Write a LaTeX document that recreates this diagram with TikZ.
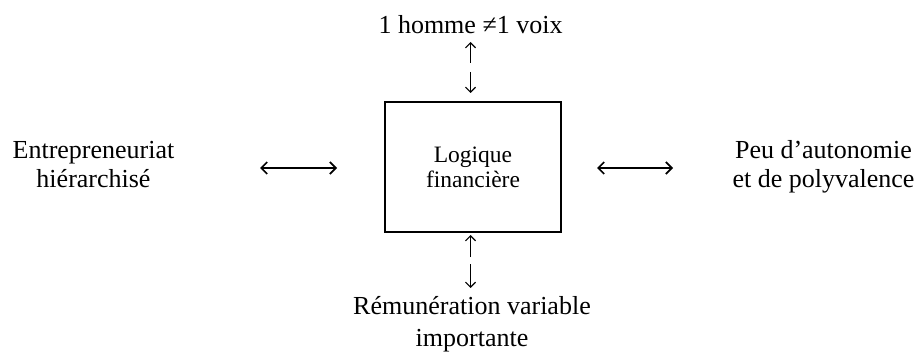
\documentclass[tikz,border=0pt]{standalone}
\usepackage{fontspec}
\setmainfont{Liberation Serif}
\usetikzlibrary{arrows.meta}
\begin{document}
\begin{tikzpicture}[x=1pt,y=-1pt,
  lbl/.style={align=center,inner sep=0pt,font=\fontsize{26}{29}\selectfont},
  mainbox/.style={draw,line width=2.6pt,minimum width=176pt,minimum height=130pt,
    align=center,inner sep=0pt,font=\fontsize{23.5}{25}\selectfont},
  harr/.style={line width=1.7pt,{Straight Barb[length=6pt,width=12pt]}-{Straight Barb[length=6pt,width=12pt]}},
  varr/.style={line width=1.2pt,-{Straight Barb[length=5pt,width=10pt]}}
]
\useasboundingbox (0,0) rectangle (919,353);
% central box
\node[mainbox] (fin) at (473,167) {Logique\\financière};
% surrounding labels
\node[lbl,anchor=base] (top) at (470.5,34) {1 homme ≠1 voix};
\node[lbl] (left) at (93.5,165) {Entrepreneuriat\\hiérarchisé};
\node[lbl] (right) at (823.5,166.5) {Peu d’autonomie\\et de polyvalence};
\node[lbl,font=\fontsize{26}{32}\selectfont] (bottom) at (472,324) {Rémunération variable\\importante};
% coordinates for arrows
\coordinate (la) at (260,168); \coordinate (lb) at (337,168);
\coordinate (ra) at (597,168); \coordinate (rb) at (673,168);
\coordinate (tua) at (470.5,63); \coordinate (tub) at (470.5,42);
\coordinate (tda) at (470.5,72); \coordinate (tdb) at (470.5,93);
\coordinate (bua) at (470.5,257); \coordinate (bub) at (470.5,235);
\coordinate (bda) at (470.5,264); \coordinate (bdb) at (470.5,288);
\draw[harr] (la) -- (lb);
\draw[harr] (ra) -- (rb);
\draw[varr] (tua) -- (tub);
\draw[varr] (tda) -- (tdb);
\draw[varr] (bua) -- (bub);
\draw[varr] (bda) -- (bdb);
\end{tikzpicture}
\end{document}
